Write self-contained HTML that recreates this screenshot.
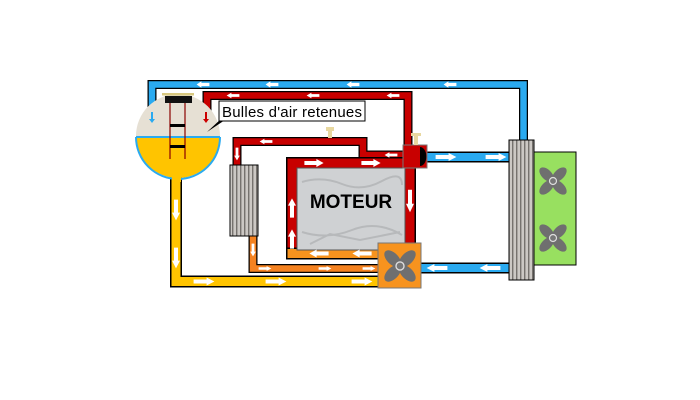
<!DOCTYPE html>
<html><head><style>
html,body{margin:0;padding:0;background:#fff;}
svg{display:block;}
</style></head><body>
<svg width="700" height="400" viewBox="0 0 700 400" xmlns="http://www.w3.org/2000/svg">
<defs>
<pattern id="st" width="4" height="10" patternUnits="userSpaceOnUse">
<rect width="4" height="10" fill="#b4b0ac"/><rect x="0" width="1.2" height="10" fill="#76726e"/><rect x="2.5" width="1" height="10" fill="#e4e0dc"/>
</pattern>
<g id="fan">
<g fill="#6f6f6f">
<ellipse cx="0" cy="-9" rx="5" ry="9" transform="rotate(45)"/>
<ellipse cx="0" cy="-9" rx="5" ry="9" transform="rotate(135)"/>
<ellipse cx="0" cy="-9" rx="5" ry="9" transform="rotate(225)"/>
<ellipse cx="0" cy="-9" rx="5" ry="9" transform="rotate(315)"/>
</g>
<circle r="3.5" fill="#777" stroke="#ddd" stroke-width="1.2"/>
</g>
<g id="ar"><polygon points="-8,-2 2,-2 2,-4 8,0 2,4 2,2 -8,2" fill="#fff"/></g>
</defs>
<g fill="none" stroke-linejoin="miter" stroke-linecap="butt">
<path d="M152,108 V84.5 H523.5 V142" stroke="#000" stroke-width="9"/>
<path d="M152,108 V84.5 H523.5 V142" stroke="#2aaaf0" stroke-width="6.5"/>
<path d="M207,112 V95.5 H408 V150" stroke="#000" stroke-width="9"/>
<path d="M207,112 V95.5 H408 V150" stroke="#c80000" stroke-width="6.5"/>
<path d="M237,166 V141.5 H363 V155 H406" stroke="#000" stroke-width="9"/>
<path d="M237,166 V141.5 H363 V155 H406" stroke="#c80000" stroke-width="6.5"/>
<path d="M253,236 V268.5 H380" stroke="#000" stroke-width="9"/>
<path d="M253,236 V268.5 H380" stroke="#f58220" stroke-width="6.5"/>
<path d="M176,170 V281.5 H380" stroke="#000" stroke-width="12"/>
<path d="M176,170 V281.5 H380" stroke="#ffc400" stroke-width="9"/>
<path d="M292,250 V163 H410 V246" stroke="#000" stroke-width="12"/>
<path d="M292,250 V163 H410 V246" stroke="#c80000" stroke-width="9"/>
<path d="M286,253.5 H380" stroke="#000" stroke-width="12"/>
<path d="M287.5,253.5 H380" stroke="#f7931e" stroke-width="9"/>
<path d="M426,157 H511" stroke="#000" stroke-width="11"/>
<path d="M426,157 H511" stroke="#2aaaf0" stroke-width="8"/>
<path d="M420,268 H511" stroke="#000" stroke-width="11"/>
<path d="M420,268 H511" stroke="#2aaaf0" stroke-width="8"/>
</g>
<rect x="297" y="168" width="108" height="82" fill="#cfd1d3" stroke="#555" stroke-width="1"/>
<g stroke="#a8aaac" stroke-width="2" fill="none" opacity="0.6">
<path d="M302,182 q20,-6 40,2 t40,-3 t20,4"/><path d="M302,232 q25,8 50,-2 t50,5"/><path d="M310,244 l20,-10 l30,6 l40,-8"/>
</g>
<text x="351" y="208" font-family="Liberation Sans, sans-serif" font-size="19" font-weight="bold" text-anchor="middle" fill="#000">MOTEUR</text>
<rect x="230" y="165" width="28" height="71" fill="url(#st)" stroke="#000" stroke-width="1"/>
<rect x="403" y="145" width="24" height="23" fill="#c80000" stroke="#777" stroke-width="1"/>
<path d="M420,147 a6,9 0 0 1 0,19 z" fill="#000"/>
<rect x="414" y="134" width="4" height="11" fill="#e8d8a0"/><rect x="411" y="133" width="10" height="3" fill="#e8d8a0"/>
<rect x="328" y="128" width="4" height="10" fill="#e8d8a0"/><rect x="326" y="127" width="8" height="4" fill="#e8d8a0"/>
<rect x="378" y="243" width="43" height="45" fill="#f7931e" stroke="#777" stroke-width="1"/>
<use href="#fan" transform="translate(400,266) scale(1.15)"/>
<rect x="509" y="140" width="25" height="140" fill="url(#st)" stroke="#000" stroke-width="1"/>
<rect x="534" y="152" width="42" height="113" fill="#98e060" stroke="#000" stroke-width="1"/>
<use href="#fan" transform="translate(553,181)"/>
<use href="#fan" transform="translate(553,238)"/>
<clipPath id="tc"><circle cx="178" cy="136" r="42"/></clipPath>
<g clip-path="url(#tc)">
<rect x="130" y="90" width="100" height="47" fill="#e6e0d4"/>
<rect x="130" y="137" width="100" height="50" fill="#ffc400"/>
<rect x="130" y="136" width="100" height="2" fill="#2aaaf0"/>
</g>
<path d="M136,137 a42,42 0 0 0 84,0" fill="none" stroke="#2aaaf0" stroke-width="2"/>
<rect x="172" y="170" width="9" height="12" fill="#ffc400"/>
<rect x="162" y="93" width="32" height="2.5" fill="#d8c880"/>
<rect x="165" y="96" width="27" height="7" fill="#111"/>
<g stroke="#8a0000" stroke-width="1.2"><line x1="170" y1="103" x2="170" y2="159"/><line x1="185" y1="103" x2="185" y2="159"/></g>
<rect x="170" y="124" width="15" height="3" fill="#000"/><rect x="170" y="145" width="15" height="3" fill="#000"/>
<path d="M151,112 v7 h-2 l3,4 l3,-4 h-2 v-7z" fill="#2aaaf0"/>
<path d="M205,112 v7 h-2 l3,4 l3,-4 h-2 v-7z" fill="#c00"/>
<polygon points="207,132 222,118 228,118" fill="#000"/>
<rect x="219" y="101" width="146" height="20" fill="#fff" stroke="#000" stroke-width="1"/>
<text x="222" y="117" font-family="Liberation Sans, sans-serif" font-size="15" fill="#000" textLength="140">Bulles d'air retenues</text>
<use href="#ar" transform="translate(203,84.5) scale(-0.8,0.8)"/>
<use href="#ar" transform="translate(272,84.5) scale(-0.8,0.8)"/>
<use href="#ar" transform="translate(353,84.5) scale(-0.8,0.8)"/>
<use href="#ar" transform="translate(450,84.5) scale(-0.8,0.8)"/>
<use href="#ar" transform="translate(233,95.5) scale(-0.8,0.7)"/>
<use href="#ar" transform="translate(313,95.5) scale(-0.8,0.7)"/>
<use href="#ar" transform="translate(393,95.5) scale(-0.8,0.7)"/>
<use href="#ar" transform="translate(266,141.5) scale(-0.8,0.7)"/>
<use href="#ar" transform="translate(391,155) scale(-0.8,0.7)"/>
<use href="#ar" transform="translate(237,154) rotate(90) scale(0.8,0.7)"/>
<use href="#ar" transform="translate(314,163) scale(1.2,1)"/>
<use href="#ar" transform="translate(371,163) scale(1.2,1)"/>
<use href="#ar" transform="translate(292,208) rotate(-90) scale(1.2,1)"/>
<use href="#ar" transform="translate(292,239) rotate(-90) scale(1.2,1)"/>
<use href="#ar" transform="translate(410,201) rotate(90) scale(1.4,1)"/>
<use href="#ar" transform="translate(319,253.5) scale(-1.2,1)"/>
<use href="#ar" transform="translate(362,253.5) scale(-1.2,1)"/>
<use href="#ar" transform="translate(253,250) rotate(90) scale(0.8,0.7)"/>
<use href="#ar" transform="translate(265,268.5) scale(0.8,0.6)"/>
<use href="#ar" transform="translate(325,268.5) scale(0.8,0.6)"/>
<use href="#ar" transform="translate(369,268.5) scale(0.8,0.6)"/>
<use href="#ar" transform="translate(176,210) rotate(90) scale(1.3,1)"/>
<use href="#ar" transform="translate(176,258) rotate(90) scale(1.3,1)"/>
<use href="#ar" transform="translate(204,281.5) scale(1.3,1)"/>
<use href="#ar" transform="translate(276,281.5) scale(1.3,1)"/>
<use href="#ar" transform="translate(362,281.5) scale(1.3,1)"/>
<use href="#ar" transform="translate(446,157) scale(1.3,1)"/>
<use href="#ar" transform="translate(496,157) scale(1.3,1)"/>
<use href="#ar" transform="translate(437,268) scale(-1.3,1)"/>
<use href="#ar" transform="translate(490,268) scale(-1.3,1)"/>
</svg>
</body></html>
